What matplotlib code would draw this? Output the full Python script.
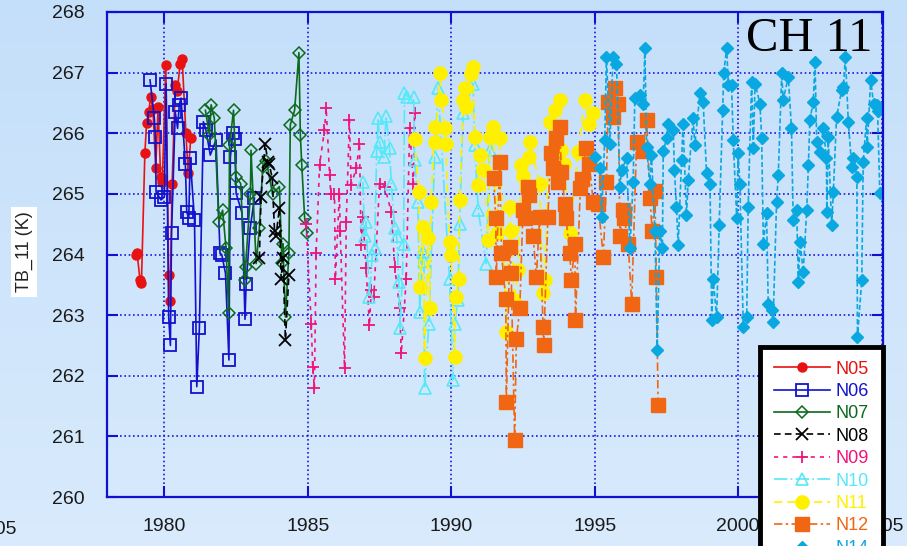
import numpy as np
import matplotlib
matplotlib.use("Agg")
import matplotlib.pyplot as plt

plt.rcParams['font.family'] = ['Liberation Sans', 'DejaVu Sans']

# ---- data (year, TB_11 in K) ----
n05_x = [1979.00, 1979.05, 1979.15, 1979.20, 1979.32, 1979.38, 1979.45, 1979.52, 1979.60, 1979.70,
         1979.78, 1979.87, 1979.93, 1980.05, 1980.15, 1980.20, 1980.27, 1980.38, 1980.45, 1980.55,
         1980.62, 1980.75, 1980.83, 1980.92]
n05_y = [264.00, 264.02, 263.58, 263.53, 265.67, 266.17, 266.35, 266.59, 266.40, 265.43,
         266.44, 265.28, 265.20, 267.13, 263.66, 263.23, 265.17, 266.80, 266.70, 267.15,
         267.22, 266.00, 265.34, 265.92]

n06_x = [1979.50, 1979.65, 1979.69, 1979.71, 1979.88, 1980.00, 1980.06, 1980.15, 1980.21, 1980.25,
         1980.38, 1980.46, 1980.52, 1980.58, 1980.73, 1980.78, 1980.85, 1980.90, 1981.05, 1981.13,
         1981.22, 1981.36, 1981.45, 1981.60, 1981.80, 1981.94, 1982.00, 1982.13, 1982.25, 1982.30,
         1982.38, 1982.45, 1982.50, 1982.71, 1982.81, 1982.85, 1982.99, 1983.14]
n06_y = [266.88, 266.25, 265.94, 265.03, 264.90, 264.95, 266.82, 262.97, 262.50, 264.35,
         266.35, 266.08, 266.47, 266.58, 265.50, 264.70, 264.60, 265.59, 264.57, 261.82,
         262.79, 266.19, 266.05, 265.64, 265.89, 264.02, 264.00, 263.69, 262.26, 265.60,
         266.00, 265.90, 265.01, 264.68, 262.93, 263.52, 264.43, 264.93]

n07_x = [1981.43, 1981.57, 1981.63, 1981.74, 1981.90, 1982.03, 1982.15, 1982.24, 1982.27, 1982.41,
         1982.50, 1982.66, 1982.81, 1982.83, 1983.00, 1983.02, 1983.20, 1983.31, 1983.43, 1983.55,
         1983.77, 1984.01, 1984.10, 1984.13, 1984.22, 1984.34, 1984.39, 1984.54, 1984.69, 1984.74,
         1984.79, 1984.89, 1984.97]
n07_y = [266.38, 265.97, 266.47, 266.25, 264.54, 264.73, 264.10, 263.04, 265.80, 266.38,
         265.28, 265.17, 263.58, 263.80, 265.00, 265.72, 263.85, 264.43, 265.45, 265.55,
         265.00, 265.12, 263.86, 264.18, 262.97, 264.02, 266.14, 266.38, 267.33, 265.97,
         265.47, 264.60, 264.35]

n08_x = [1983.31, 1983.37, 1983.51, 1983.61, 1983.65, 1983.76, 1983.84, 1983.89, 1984.01, 1984.07,
         1984.13, 1984.22, 1984.34]
n08_y = [263.94, 264.95, 265.83, 265.53, 265.50, 265.26, 264.38, 264.30, 264.77, 263.60,
         263.94, 262.59, 263.66]

n09_x = [1984.94, 1985.12, 1985.17, 1985.23, 1985.29, 1985.41, 1985.58, 1985.64, 1985.76, 1985.80,
         1985.93, 1985.96, 1986.10, 1986.13, 1986.28, 1986.34, 1986.45, 1986.51, 1986.69, 1986.80,
         1986.86, 1986.92, 1987.03, 1987.15, 1987.21, 1987.30, 1987.50, 1987.68, 1987.91, 1988.03,
         1988.20, 1988.26, 1988.43, 1988.55, 1988.68, 1988.72]
n09_y = [264.51, 262.86, 262.15, 261.79, 264.02, 265.48, 266.05, 266.41, 265.31, 265.00,
         265.00, 263.60, 265.00, 264.38, 262.12, 264.54, 266.22, 265.15, 265.42, 265.83,
         264.16, 264.62, 263.77, 262.84, 263.41, 263.30, 265.17, 265.12, 264.70, 263.80,
         263.11, 262.37, 263.60, 266.08, 265.17, 266.33]

n10_x = [1986.92, 1986.98, 1987.03, 1987.15, 1987.25, 1987.33, 1987.40, 1987.45, 1987.50, 1987.65,
         1987.73, 1987.85, 1987.91, 1988.03, 1988.10, 1988.17, 1988.22, 1988.34, 1988.37, 1988.47,
         1988.69, 1988.72, 1988.84, 1988.90, 1989.00, 1989.05, 1989.07, 1989.22, 1989.42, 1989.54,
         1989.94, 1990.06, 1990.12, 1990.23, 1990.29, 1990.41, 1990.76, 1990.82, 1990.94, 1991.22,
         1991.34]
n10_y = [265.20, 264.30, 264.54, 263.30, 264.00, 264.10, 265.70, 266.25, 265.85, 265.60,
         266.28, 265.75, 265.17, 264.43, 264.30, 263.55, 262.78, 264.18, 266.66, 266.60,
         266.60, 265.56, 264.87, 263.05, 264.04, 263.90, 261.79, 262.86, 265.61, 266.74,
         263.60, 261.93, 262.86, 263.25, 264.51, 266.33, 266.82, 265.80, 264.73, 263.85,
         265.72]

n11_x = [1988.72, 1988.87, 1988.90, 1989.02, 1989.07, 1989.19, 1989.25, 1989.30, 1989.42, 1989.45,
         1989.60, 1989.66, 1989.77, 1989.80, 1989.94, 1990.00, 1990.12, 1990.15, 1990.27, 1990.29,
         1990.42, 1990.47, 1990.50, 1990.70, 1990.75, 1990.82, 1990.94, 1990.99, 1991.15, 1991.29,
         1991.35, 1991.46, 1991.58, 1991.69, 1991.92, 1992.04, 1992.10, 1992.20, 1992.33, 1992.44,
         1992.50, 1992.70, 1992.74, 1993.08, 1993.20, 1993.26, 1993.43, 1993.61, 1993.78, 1993.84,
         1993.93, 1994.13, 1994.42, 1994.65, 1994.80, 1994.95]
n11_y = [265.90, 265.03, 263.47, 264.46, 262.30, 264.27, 263.11, 264.87, 266.11, 265.86,
         267.00, 266.55, 266.08, 265.82, 264.21, 264.00, 262.31, 263.30, 263.60, 264.90,
         266.55, 266.74, 266.44, 266.98, 267.10, 265.94, 265.14, 265.64, 265.40, 264.24,
         265.94, 266.11, 264.35, 265.92, 262.72, 264.79, 264.38, 263.25, 263.74, 265.48,
         265.30, 265.60, 265.86, 265.17, 263.36, 263.58, 266.19, 266.38, 266.55, 265.72,
         265.50, 264.35, 265.69, 266.55, 266.15, 266.33]

n12_x = [1991.48, 1991.55, 1991.57, 1991.69, 1991.75, 1991.90, 1991.92, 1992.04, 1992.09, 1992.21,
         1992.27, 1992.39, 1992.50, 1992.56, 1992.67, 1992.70, 1992.85, 1992.97, 1993.08, 1993.20,
         1993.22, 1993.37, 1993.46, 1993.55, 1993.66, 1993.72, 1993.78, 1993.84, 1993.96, 1994.00,
         1994.13, 1994.19, 1994.31, 1994.33, 1994.50, 1994.55, 1994.69, 1994.81, 1994.95, 1995.12,
         1995.30, 1995.41, 1995.47, 1995.65, 1995.70, 1995.82, 1995.88, 1996.00, 1996.03, 1996.17,
         1996.29, 1996.46, 1996.69, 1996.81, 1996.93, 1997.00, 1997.10, 1997.15, 1997.21]
n12_y = [265.26, 264.60, 263.63, 265.53, 264.02, 263.27, 261.57, 264.13, 263.69, 260.94,
         262.61, 263.11, 264.73, 264.60, 265.12, 264.98, 264.30, 263.63, 264.62, 262.81,
         262.50, 264.62, 265.67, 265.42, 265.92, 265.20, 266.11, 265.36, 264.84, 264.60,
         264.02, 263.58, 264.18, 262.92, 265.10, 265.25, 265.75, 265.50, 264.87, 264.84,
         263.96, 265.20, 266.52, 266.27, 266.74, 266.49, 264.30, 264.73, 264.60, 264.18,
         263.19, 265.86, 265.70, 266.22, 264.93, 264.38, 265.04, 263.63, 261.51]

n14_x = [1995.00, 1995.18, 1995.24, 1995.35, 1995.41, 1995.53, 1995.64, 1995.76, 1995.88, 1995.94,
         1996.11, 1996.23, 1996.34, 1996.40, 1996.57, 1996.69, 1996.75, 1996.81, 1996.92, 1996.98,
         1997.10, 1997.18, 1997.27, 1997.36, 1997.39, 1997.51, 1997.56, 1997.74, 1997.78, 1997.85,
         1997.91, 1998.03, 1998.08, 1998.20, 1998.26, 1998.43, 1998.49, 1998.67, 1998.78, 1998.90,
         1999.02, 1999.08, 1999.13, 1999.25, 1999.34, 1999.46, 1999.50, 1999.60, 1999.66, 1999.77,
         1999.83, 1999.95, 2000.00, 2000.06, 2000.18, 2000.30, 2000.35, 2000.47, 2000.53, 2000.59,
         2000.76, 2000.82, 2000.88, 2000.99, 2001.05, 2001.17, 2001.22, 2001.34, 2001.40, 2001.52,
         2001.57, 2001.75, 2001.86, 2001.92, 2002.04, 2002.10, 2002.16, 2002.27, 2002.39, 2002.45,
         2002.50, 2002.62, 2002.68, 2002.74, 2002.85, 2002.97, 2003.08, 2003.09, 2003.14, 2003.26,
         2003.32, 2003.43, 2003.61, 2003.67, 2003.74, 2003.84, 2003.96, 2004.02, 2004.14, 2004.16,
         2004.31, 2004.36, 2004.48, 2004.50, 2004.62, 2004.72, 2004.83, 2004.86, 2004.94]
n14_y = [265.61, 265.42, 264.62, 265.89, 267.26, 265.83, 267.26, 267.15, 265.12, 265.39,
         265.59, 264.10, 265.20, 266.58, 266.63, 266.49, 267.40, 265.78, 265.17, 265.64,
         264.38, 262.42, 264.38, 264.10, 265.70, 265.92, 266.16, 266.05, 265.39, 264.79,
         264.16, 265.56, 266.16, 264.65, 265.23, 266.25, 265.81, 266.66, 266.52, 265.34,
         265.17, 262.92, 263.60, 262.97, 264.49, 266.38, 267.00, 267.40, 266.80, 266.80,
         265.89, 264.60, 265.67, 265.17, 262.81, 262.97, 264.79, 266.85, 265.75, 266.82,
         266.49, 265.92, 264.18, 264.68, 263.19, 263.08, 262.89, 264.87, 265.31, 266.99,
         266.55, 266.93, 266.08, 264.57, 264.73, 263.55, 264.21, 263.71, 264.73, 265.48,
         266.22, 266.52, 267.18, 265.86, 265.69, 266.08, 265.59, 264.70, 265.94, 264.49,
         265.03, 266.27, 266.71, 266.77, 267.26, 266.19, 265.45, 265.59, 265.28, 262.64,
         263.58, 265.53, 266.25, 265.78, 266.88, 266.49, 266.47, 266.36, 265.01]

series = [
    ("N05", n05_x, n05_y, dict(color='#e81212', ls='-', marker='o', ms=6.5)),
    ("N06", n06_x, n06_y, dict(color='#1212cc', ls='-', marker='s', ms=8, mfc='none', mew=1.3)),
    ("N07", n07_x, n07_y, dict(color='#0c6a1c', ls='-', marker='D', ms=6, mfc='none', mew=1.1)),
    ("N08", n08_x, n08_y, dict(color='black', ls=(0, (4, 2.5)), marker='x', ms=8, mew=1.3)),
    ("N09", n09_x, n09_y, dict(color='#f0147a', ls=(0, (2.5, 3)), marker='+', ms=9, mew=1.3)),
    ("N10", n10_x, n10_y, dict(color='#55e8f8', ls=(0, (8, 2, 1, 2)), marker='^', ms=9, mfc='none', mew=1.2)),
    ("N11", n11_x, n11_y, dict(color='#fff000', ls=(0, (5, 3)), marker='o', ms=9.5)),
    ("N12", n12_x, n12_y, dict(color='#f06612', ls=(0, (5, 2, 1.5, 2)), marker='s', ms=9.5)),
    ("N14", n14_x, n14_y, dict(color='#0aa8e0', ls=(0, (3, 1.5)), marker='D', ms=6.5)),
]

fig = plt.figure(figsize=(9.07, 5.46), dpi=100)

# light blue gradient behind everything
bg = fig.add_axes([0, 0, 1, 1])
grad = np.linspace(0, 1, 256).reshape(-1, 1)
top = np.array([0.77, 0.875, 0.98])
bot = np.array([0.85, 0.92, 0.99])
img = top + (bot - top) * grad[:, :, None]
bg.imshow(img, aspect='auto', extent=[0, 1, 0, 1])
bg.axis('off')

ax = fig.add_axes([107 / 907, 1 - 497 / 546, 776 / 907, 485 / 546])
ax.set_facecolor('none')

for name, xs, ys, st in series:
    ax.plot(xs, ys, lw=1.2, label=name, **st)

ax.set_xlim(1978, 2005.05)
ax.set_ylim(260, 268)
ax.set_xticks([1980, 1985, 1990, 1995, 2000, 2005])
ax.set_yticks(range(260, 269))
ax.grid(True, color='#1a1ae0', linestyle=(0, (1, 1.6)), linewidth=1.2)
for sp in ax.spines.values():
    sp.set_color('#1010d0')
    sp.set_linewidth(1.6)
ax.tick_params(direction='in', length=8, width=1.5, color='#1010d0',
               top=True, right=True, labelsize=14, labelcolor='#1a1a1a')
ax.tick_params(axis='y', pad=16)
ax.tick_params(axis='x', pad=15)

ax.text(0.905, 0.944, "CH 11", transform=ax.transAxes, ha='center', va='center',
        fontsize=35, family='Liberation Serif', color='black')

fig.text(24 / 907, 1 - 252 / 546, "TB_11 (K)", rotation=90, ha='center', va='center',
         fontsize=13, color='#222222',
         bbox=dict(facecolor='white', edgecolor='none', pad=3))
fig.text(16 / 907, 1 - 530 / 546, "2005", ha='right', va='center', fontsize=14, color='#1a1a1a')

leg = fig.legend(loc='upper left', bbox_to_anchor=(760 / 907, 1 - 347 / 546),
                 fontsize=13, numpoints=1, handlelength=3.15, handletextpad=0.3,
                 borderpad=0.75, labelspacing=0.3, borderaxespad=0,
                 fancybox=False, framealpha=1, facecolor='white', edgecolor='black')
leg.get_frame().set_linewidth(3.5)
for txt, (name, xs, ys, st) in zip(leg.get_texts(), series):
    txt.set_color(st['color'])

fig.savefig("out.png", dpi=100)
